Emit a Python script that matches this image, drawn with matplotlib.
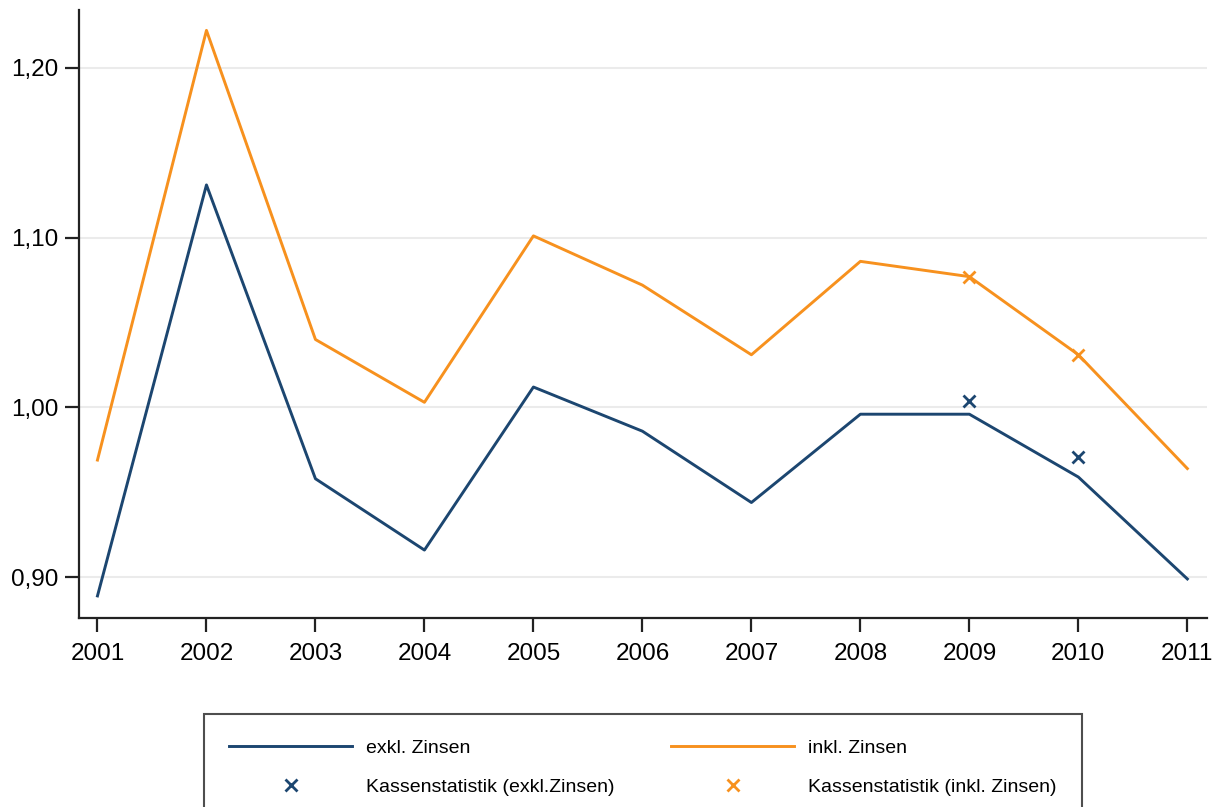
import numpy as np
import matplotlib.pyplot as plt

plt.rcParams['font.family'] = ['Liberation Sans', 'DejaVu Sans']

# Werte
years = [2001, 2002, 2003, 2004, 2005, 2006, 2007, 2008, 2009, 2010, 2011]
exkl = [0.889, 1.131, 0.958, 0.916, 1.012, 0.986, 0.944, 0.996, 0.996, 0.959, 0.899]
inkl = [0.969, 1.222, 1.040, 1.003, 1.101, 1.072, 1.031, 1.086, 1.077, 1.031, 0.964]

kasse_years = [2009, 2010]
kasse_exkl = [1.004, 0.971]
kasse_inkl = [1.077, 1.031]

yticks = [0.90, 1.00, 1.10, 1.20]
ytick_labels = ['0,90', '1,00', '1,10', '1,20']

NAVY = '#1c4670'
ORANGE = '#f7911e'

fig = plt.figure(figsize=(12.22, 8.07), dpi=100)
ax = fig.add_axes([0.0646, 0.2342, 0.9231, 0.7534])

ax.grid(axis='y', color='#ebebeb', linewidth=1.5)
ax.set_axisbelow(True)

l1, = ax.plot(years, exkl, color=NAVY, linewidth=2.1, label='exkl. Zinsen')
l2, = ax.plot(years, inkl, color=ORANGE, linewidth=2.1, label='inkl. Zinsen')
m1, = ax.plot(kasse_years, kasse_exkl, linestyle='none', marker='x', color=NAVY,
              markersize=9, markeredgewidth=2, label='Kassenstatistik (exkl.Zinsen)')
m2, = ax.plot(kasse_years, kasse_inkl, linestyle='none', marker='x', color=ORANGE,
              markersize=9, markeredgewidth=2, label='Kassenstatistik (inkl. Zinsen)')

ax.set_xlim(2000.83, 2011.18)
ax.set_ylim(0.876, 1.234)
ax.set_xticks(years)
ax.set_yticks(yticks)
ax.set_yticklabels(ytick_labels)

for side in ['top', 'right']:
    ax.spines[side].set_visible(False)
for side in ['left', 'bottom']:
    ax.spines[side].set_linewidth(1.6)
    ax.spines[side].set_color('#222222')
ax.tick_params(axis='both', direction='out', length=10, width=1.6, color='#222222',
               labelsize=17.5)
ax.tick_params(axis='x', pad=8)
ax.tick_params(axis='y', pad=5)

# Legende unten, Rahmen laeuft ueber den Bildrand hinaus
leg = fig.legend(handles=[l1, m1, l2, m2], ncol=2, loc='upper left',
                 bbox_to_anchor=(204 / 1222, 1 - 714 / 807), fontsize=14,
                 frameon=True, fancybox=False, handlelength=6.3, handletextpad=0.75,
                 columnspacing=2.9, borderpad=1.3, labelspacing=1.1,
                 borderaxespad=0)
leg.get_frame().set_edgecolor('#222222')
leg.get_frame().set_linewidth(1.5)

fig.savefig('out.png', dpi=100)
